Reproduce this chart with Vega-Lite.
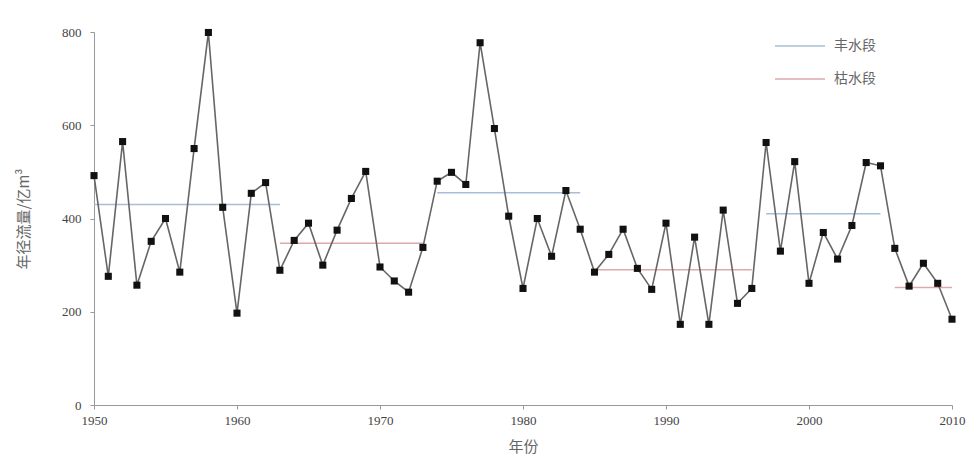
{
  "$schema": "https://vega.github.io/schema/vega-lite/v6.json",
  "width": 858,
  "height": 373,
  "autosize": {"type": "none"},
  "padding": {"left": 94, "top": 32, "right": 20, "bottom": 59},
  "background": "white",
  "config": {
    "view": {"stroke": null},
    "font": "Liberation Serif",
    "axis": {"labelFont": "Liberation Serif", "titleFont": "Noto Sans CJK SC", "labelColor": "#444", "titleColor": "#666", "domainColor": "#999", "tickColor": "#999", "grid": false, "labelFontSize": 13, "titleFontSize": 15, "titleFontWeight": "normal", "labelFlush": false}
  },
  "datasets": {
    "flow": [
      {"year": 1950, "value": 492}, {"year": 1951, "value": 276}, {"year": 1952, "value": 565},
      {"year": 1953, "value": 257}, {"year": 1954, "value": 351}, {"year": 1955, "value": 400},
      {"year": 1956, "value": 285}, {"year": 1957, "value": 550}, {"year": 1958, "value": 799},
      {"year": 1959, "value": 424}, {"year": 1960, "value": 197}, {"year": 1961, "value": 454},
      {"year": 1962, "value": 477}, {"year": 1963, "value": 289}, {"year": 1964, "value": 353},
      {"year": 1965, "value": 390}, {"year": 1966, "value": 300}, {"year": 1967, "value": 375},
      {"year": 1968, "value": 443}, {"year": 1969, "value": 501}, {"year": 1970, "value": 296},
      {"year": 1971, "value": 266}, {"year": 1972, "value": 242}, {"year": 1973, "value": 338},
      {"year": 1974, "value": 480}, {"year": 1975, "value": 499}, {"year": 1976, "value": 473},
      {"year": 1977, "value": 777}, {"year": 1978, "value": 593}, {"year": 1979, "value": 405},
      {"year": 1980, "value": 250}, {"year": 1981, "value": 400}, {"year": 1982, "value": 319},
      {"year": 1983, "value": 460}, {"year": 1984, "value": 377}, {"year": 1985, "value": 285},
      {"year": 1986, "value": 323}, {"year": 1987, "value": 377}, {"year": 1988, "value": 293},
      {"year": 1989, "value": 248}, {"year": 1990, "value": 390}, {"year": 1991, "value": 173},
      {"year": 1992, "value": 360}, {"year": 1993, "value": 173}, {"year": 1994, "value": 418},
      {"year": 1995, "value": 218}, {"year": 1996, "value": 250}, {"year": 1997, "value": 563},
      {"year": 1998, "value": 330}, {"year": 1999, "value": 522}, {"year": 2000, "value": 261},
      {"year": 2001, "value": 370}, {"year": 2002, "value": 313}, {"year": 2003, "value": 385},
      {"year": 2004, "value": 520}, {"year": 2005, "value": 513}, {"year": 2006, "value": 336},
      {"year": 2007, "value": 255}, {"year": 2008, "value": 304}, {"year": 2009, "value": 261},
      {"year": 2010, "value": 184}
    ],
    "periods": [
      {"start": 1950, "end": 1963, "mean": 430, "type": "丰水段"},
      {"start": 1963, "end": 1973, "mean": 347, "type": "枯水段"},
      {"start": 1974, "end": 1984, "mean": 455, "type": "丰水段"},
      {"start": 1985, "end": 1996, "mean": 290, "type": "枯水段"},
      {"start": 1997, "end": 2005, "mean": 410, "type": "丰水段"},
      {"start": 2006, "end": 2010, "mean": 252, "type": "枯水段"}
    ]
  },
  "layer": [
    {
      "data": {"name": "periods"},
      "mark": {"type": "rule", "strokeWidth": 1.5},
      "encoding": {
        "x": {"field": "start", "type": "quantitative", "scale": {"domain": [1950, 2010], "nice": false, "zero": false},
              "axis": {"values": [1950, 1960, 1970, 1980, 1990, 2000, 2010], "format": "d", "title": "年份", "titlePadding": 12, "labelPadding": 5, "tickSize": 4}},
        "x2": {"field": "end"},
        "y": {"field": "mean", "type": "quantitative", "scale": {"domain": [0, 800], "nice": false},
              "axis": {"values": [0, 200, 400, 600, 800], "title": "年径流量/亿m³", "titlePadding": 30, "labelPadding": 9, "tickSize": 4}},
        "color": {"field": "type", "type": "nominal",
                  "scale": {"domain": ["丰水段", "枯水段"], "range": ["#a9bdd6", "#dcaaaa"]},
                  "legend": {"title": null, "orient": "none", "legendX": 680, "legendY": -12, "symbolType": "stroke", "symbolSize": 2500, "symbolStrokeWidth": 1.5, "labelFont": "Noto Sans CJK SC", "labelFontSize": 14, "labelColor": "#666", "rowPadding": -9, "labelOffset": 8}}
      }
    },
    {
      "data": {"name": "flow"},
      "mark": {"type": "line", "color": "#666", "strokeWidth": 1.6},
      "encoding": {
        "x": {"field": "year", "type": "quantitative"},
        "y": {"field": "value", "type": "quantitative"}
      }
    },
    {
      "data": {"name": "flow"},
      "mark": {"type": "point", "shape": "square", "filled": true, "color": "#111", "size": 50, "opacity": 1},
      "encoding": {
        "x": {"field": "year", "type": "quantitative"},
        "y": {"field": "value", "type": "quantitative"}
      }
    }
  ]
}
